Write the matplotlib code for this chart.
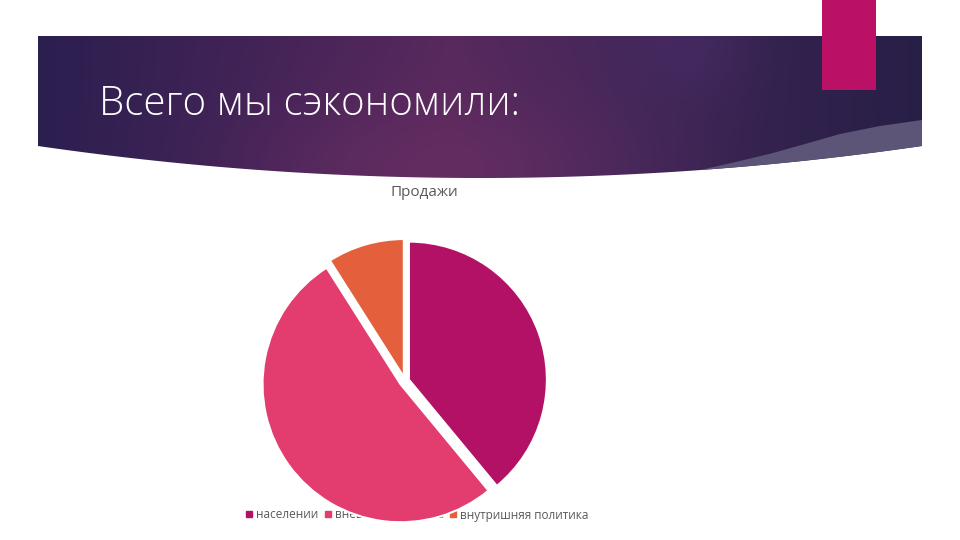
import numpy as np
import matplotlib.pyplot as plt
from matplotlib.patches import Polygon, Rectangle
from matplotlib.lines import Line2D

# chart data
labels = ['населении', 'внешняя политика', 'внутришняя политика']
values = [39, 52, 9]
colors = ['#B31166', '#E33D6F', '#E45F3C']
chart_title = 'Продажи'
slide_title = 'Всего мы сэкономили:'

W, H = 960, 540
fig = plt.figure(figsize=(9.6, 5.4), dpi=100)
fig.patch.set_facecolor('white')

# background / slide decoration in pixel coordinates
bg = fig.add_axes([0, 0, 1, 1], zorder=-10)
bg.set_xlim(0, W)
bg.set_ylim(H, 0)
bg.axis('off')

# gradient for the header band
xs = np.linspace(0, W, W)
ys = np.linspace(0, 200, 200)
X, Y = np.meshgrid(xs, ys)
stops_x = [38, 250, 450, 620, 780, 922]
stops_c = np.array([[0x2b, 0x1f, 0x4f], [0x42, 0x23, 0x57], [0x58, 0x29, 0x5d],
                    [0x45, 0x27, 0x5a], [0x32, 0x22, 0x4d], [0x28, 0x1f, 0x47]]) / 255
img = np.zeros((200, W, 3))
for k in range(3):
    img[:, :, k] = np.interp(X, stops_x, stops_c[:, k])
# magenta glow near bottom centre, purple glow top right
g1 = np.exp(-(((X - 430) / 170) ** 2 + ((Y - 170) / 70) ** 2))
g2 = np.exp(-(((X - 690) / 60) ** 2 + ((Y - 40) / 60) ** 2))
img = img + g1[..., None] * (np.array([0x6c, 0x2f, 0x64]) / 255 - img) * 0.6
img = img + g2[..., None] * (np.array([0x4a, 0x2d, 0x6a]) / 255 - img) * 0.5
im = bg.imshow(img, extent=(0, W, 200, 0), aspect='auto', zorder=1)


def band_bottom(x):
    return 178 - 1.638e-4 * (x - 480) ** 2


bx = np.linspace(38, 922, 200)
by = band_bottom(bx)
band = Polygon(np.vstack([[[38, 36], [922, 36]], np.column_stack([bx[::-1], by[::-1]])]),
               closed=True, transform=bg.transData, facecolor='none', edgecolor='none')
bg.add_patch(band)
im.set_clip_path(band)

# lighter strip at the lower right of the band
sx = np.array([700, 740, 773, 805, 840, 880, 922])
sy_top = np.array([band_bottom(700), 161, 153, 144, 134, 126, 120])
sy_bot = band_bottom(sx)
strip = np.vstack([np.column_stack([sx, sy_top]), np.column_stack([sx[::-1], sy_bot[::-1]])])
bg.add_patch(Polygon(strip, closed=True, facecolor='#5d5578', edgecolor='none', zorder=2))

# magenta tab
bg.add_patch(Rectangle((822, 0), 54, 90, facecolor='#BA1166', edgecolor='none', zorder=3))

bg.text(99, 104, slide_title, color='white', fontsize=29, fontweight='light',
        family=['Open Sans', 'DejaVu Sans'], va='center', ha='left', zorder=4)
bg.text(424, 193, chart_title, color='#595959', fontsize=11,
        family=['Open Sans', 'DejaVu Sans'], va='center', ha='center', zorder=4)

# legend (drawn below the pie, which overlaps it)
handles = [Line2D([], [], marker='s', linestyle='none', markersize=4,
                  markerfacecolor=c, markeredgecolor=c) for c in colors]
leg = bg.legend(handles, labels, ncol=3, loc='center', bbox_to_anchor=(417, 515),
                bbox_transform=bg.transData, frameon=False,
                handlelength=0.6, handletextpad=0.3, columnspacing=0.5,
                prop={'family': ['Open Sans', 'DejaVu Sans'], 'size': 8.5})
for t in leg.get_texts():
    t.set_color('#595959')

# pie
cx, cy, r = 405, 381, 138
half = 1.1 * r
ax = fig.add_axes([(cx - half) / W, 1 - (cy + half) / H, 2 * half / W, 2 * half / H])
ax.pie(values, colors=colors, startangle=90, counterclock=False,
       explode=[0.03, 0.04, 0.03],
       wedgeprops=dict(edgecolor='white', linewidth=1.5))
ax.set_xlim(-1.1, 1.1)
ax.set_ylim(-1.1, 1.1)
ax.set_aspect('equal')
ax.axis('off')

fig.savefig('out.png', dpi=100, facecolor='white')
